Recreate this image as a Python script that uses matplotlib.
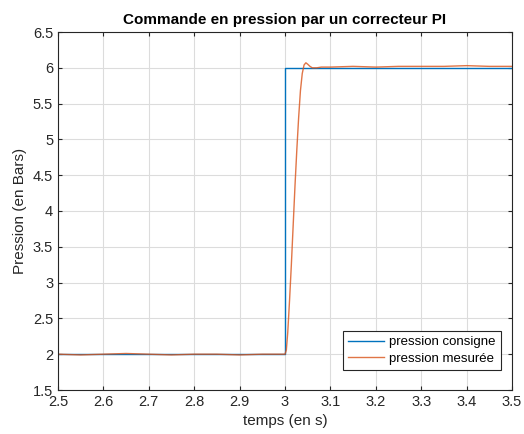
import matplotlib
matplotlib.use("Agg")
import matplotlib.pyplot as plt

# consigne (step)
t_cons = [2.5, 3.0, 3.0, 3.5]
p_cons = [2.0, 2.0, 6.0, 6.0]

t_mes = [2.5, 2.55, 2.6, 2.65, 2.7, 2.75, 2.8, 2.85, 2.9, 2.95, 3.0,
         3.003, 3.006, 3.01, 3.014, 3.018, 3.022, 3.026, 3.03, 3.034,
         3.038, 3.042, 3.046, 3.05, 3.055, 3.06, 3.07, 3.08, 3.1, 3.15,
         3.2, 3.25, 3.3, 3.35, 3.4, 3.45, 3.5]
p_mes = [2.0, 1.99, 2.0, 2.01, 2.0, 1.99, 2.0, 2.0, 1.99, 2.0, 2.0,
         2.06, 2.3, 2.75, 3.25, 3.8, 4.35, 4.85, 5.3, 5.68,
         5.92, 6.04, 6.07, 6.05, 6.02, 6.0, 6.0, 6.01, 6.01, 6.02,
         6.01, 6.02, 6.02, 6.02, 6.03, 6.02, 6.02]

xticks = [2.5, 2.6, 2.7, 2.8, 2.9, 3.0, 3.1, 3.2, 3.3, 3.4, 3.5]
yticks = [1.5, 2, 2.5, 3, 3.5, 4, 4.5, 5, 5.5, 6, 6.5]

plt.rcParams['font.family'] = ['Liberation Sans', 'DejaVu Sans']

fig = plt.figure(figsize=(5.24, 4.34), dpi=100)
ax = fig.add_axes([58 / 524, 1 - 390 / 434, 454 / 524, 358 / 434])

ax.plot(t_cons, p_cons, color='#0072BD', lw=1.0, label='pression consigne')
ax.plot(t_mes, p_mes, color='#D95319', lw=1.0, alpha=0.8, label='pression mesurée')

ax.set_xlim(2.5, 3.5)
ax.set_ylim(1.5, 6.5)
ax.set_xticks(xticks)
ax.set_xticklabels(['2.5', '2.6', '2.7', '2.8', '2.9', '3', '3.1', '3.2', '3.3', '3.4', '3.5'])
ax.set_yticks(yticks)
ax.set_yticklabels(['1.5', '2', '2.5', '3', '3.5', '4', '4.5', '5', '5.5', '6', '6.5'])
ax.grid(True, color='#dcdcdc', lw=0.8)
ax.set_axisbelow(True)
for s in ax.spines.values():
    s.set_color('#262626')
    s.set_linewidth(0.8)
ax.tick_params(direction='in', length=3, colors='#262626', labelsize=10.5,
               top=True, right=True)

ax.set_title('Commande en pression par un correcteur PI', fontsize=11,
             fontweight='bold', pad=6)
ax.set_xlabel('temps (en s)', fontsize=11, color='#262626')
ax.set_ylabel('Pression (en Bars)', fontsize=11, color='#262626')

leg = ax.legend(loc='lower right', bbox_to_anchor=(0.976, 0.056), borderaxespad=0,
                fontsize=9.5, fancybox=False, framealpha=1, edgecolor='#262626',
                handlelength=2.7, handletextpad=0.4, borderpad=0.4,
                labelspacing=0.3)
leg.get_frame().set_linewidth(0.8)

fig.savefig('out.png', dpi=100)
